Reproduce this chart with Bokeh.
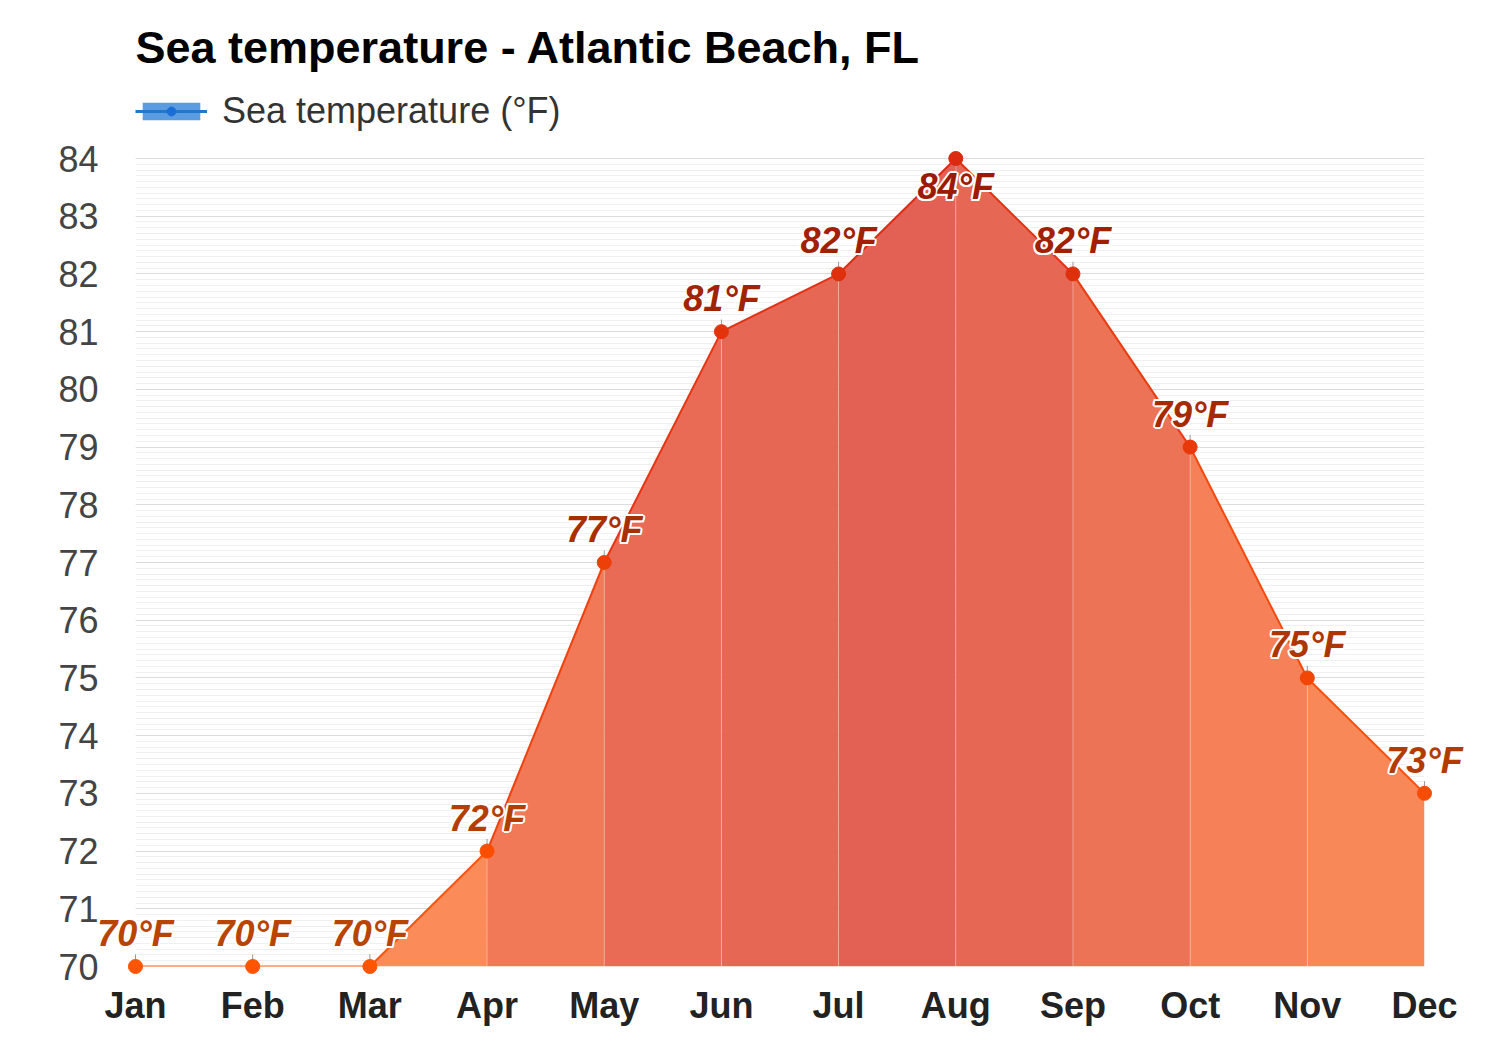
import numpy as np
from bokeh.plotting import figure
from bokeh.models import (ColumnDataSource, Legend, LegendItem, FixedTicker, Range1d, Label)
from bokeh.core.properties import value
from bokeh.embed import file_html
from bokeh.resources import INLINE

# ---------------- data ----------------
months = ["Jan", "Feb", "Mar", "Apr", "May", "Jun", "Jul", "Aug", "Sep", "Oct", "Nov", "Dec"]
sea_temp_f = [70, 70, 70, 72, 77, 81, 82, 84, 82, 79, 75, 73]
y_ticks = list(range(70, 85))
y_min, y_max = 70, 84
chart_title = "Sea temperature - Atlantic Beach, FL"
series_name = "Sea temperature (°F)"
unit = "°F"

FONT = "Liberation Sans"


def hex2rgb(h):
    h = h.lstrip("#")
    return tuple(int(h[i:i + 2], 16) for i in (0, 2, 4))


def lerp(c0, c1, t):
    a, b = hex2rgb(c0), hex2rgb(c1)
    t = max(0.0, min(1.0, t))
    return "#%02x%02x%02x" % tuple(int(round(a[i] + (b[i] - a[i]) * t)) for i in range(3))


def tnorm(v):
    return (v - y_min) / (y_max - y_min)


x = list(range(len(months)))
v = sea_temp_f
n = len(v)

# segment colours keyed on the right-hand value
seg_fill = [lerp("#ff8e52", "#e2574b", tnorm(v[i + 1])) for i in range(n - 1)]
seg_line = [lerp("#ff5a0a", "#e02a14", tnorm(v[i + 1])) for i in range(n - 1)]
pt_color = [lerp("#ff5500", "#da2a10", tnorm(t)) for t in v]
lbl_color = [lerp("#b84400", "#9c1a00", tnorm(t)) for t in v]

vmax = max(v)
lbl_off = [28 if t == vmax else -33 for t in v]
conn_end = [t - 0.21 if t == vmax else t + 0.21 for t in v]
labels = [f"{t}{unit}" for t in v]

# ---------------- layout (pixels) ----------------
W, H = 1484, 1034
FRAME_LEFT, FRAME_RIGHT = 135, 1424      # Jan .. Dec
FRAME_BOTTOM, TOP_VALUE_Y = 966, 158     # y of 70 and of 84
px_per_unit = (FRAME_BOTTOM - TOP_VALUE_Y) / (y_max - y_min)
y_top = y_min + FRAME_BOTTOM / px_per_unit   # frame reaches the canvas top

p = figure(width=W, height=H, output_backend="svg", toolbar_location=None,
           x_range=Range1d(0, n - 1), y_range=Range1d(y_min, y_top),
           min_border_left=FRAME_LEFT, min_border_right=W - FRAME_RIGHT,
           min_border_top=0, min_border_bottom=H - FRAME_BOTTOM)
p.outline_line_color = None
p.background_fill_color = "white"
p.border_fill_color = "white"

# grid
minor = [round(t, 1) for t in np.arange(y_min, y_max + 1e-9, 0.1)]
p.yaxis.ticker = FixedTicker(ticks=y_ticks, minor_ticks=minor)
p.xgrid.grid_line_color = None
p.ygrid.grid_line_color = "#dcdcdc"
p.ygrid.grid_line_width = 1
p.ygrid.minor_grid_line_color = "#f0f0f0"

# axes
p.yaxis.axis_line_color = None
p.yaxis.major_tick_line_color = None
p.yaxis.minor_tick_line_color = None
p.yaxis.major_label_text_font = FONT
p.yaxis.major_label_text_font_size = "36px"
p.yaxis.major_label_text_color = "#444444"
p.yaxis.major_label_standoff = 31

p.xaxis.ticker = FixedTicker(ticks=x)
p.xaxis.major_label_overrides = {i: m for i, m in enumerate(months)}
p.xaxis.axis_line_color = None
p.xaxis.major_tick_line_color = None
p.xaxis.minor_tick_line_color = None
p.xaxis.major_label_text_font = FONT
p.xaxis.major_label_text_font_size = "36px"
p.xaxis.major_label_text_font_style = "bold"
p.xaxis.major_label_text_color = "#222222"
p.xaxis.major_label_standoff = 12

# area segments
seg_src = ColumnDataSource(dict(
    xs=[[x[i], x[i + 1], x[i + 1], x[i]] for i in range(n - 1)],
    ys=[[v[i], v[i + 1], y_min, y_min] for i in range(n - 1)],
    fill=seg_fill,
))
p.patches("xs", "ys", source=seg_src, fill_color="fill", fill_alpha=0.95, line_color=None)

# faint seams at each month
p.segment(x0=x[1:], y0=[y_min] * (n - 1), x1=x[1:], y1=v[1:], line_color="white",
          line_alpha=0.3, line_width=1)

# top line
p.segment(x0=x[:-1], y0=v[:-1], x1=x[1:], y1=v[1:], line_color=seg_line, line_width=2)

# connectors
p.segment(x0=x, y0=v, x1=x, y1=conn_end, line_color="#999999", line_width=1, level="overlay")

# points
p.scatter(x=x, y=v, size=14, fill_color=pt_color, line_color=pt_color, level="overlay")

# labels with white halo
lsrc = ColumnDataSource(dict(x=x, y=v, text=labels, color=lbl_color, off=lbl_off))
for dx, dy in [(-2, 0), (2, 0), (0, -2), (0, 2), (-1.5, -1.5), (1.5, -1.5), (-1.5, 1.5), (1.5, 1.5)]:
    hsrc = ColumnDataSource(dict(x=x, y=v, text=labels, off=[o + dy for o in lbl_off]))
    p.text(x="x", y="y", text="text", source=hsrc, x_offset=dx, y_offset="off",
           text_align="center", text_baseline="middle", text_color="white",
           text_font=value(FONT), text_font_size="36px", text_font_style="bold italic",
           level="overlay")
p.text(x="x", y="y", text="text", source=lsrc, y_offset="off",
       text_align="center", text_baseline="middle", text_color="color",
       text_font=value(FONT), text_font_size="36px", text_font_style="bold italic",
       level="overlay")

# title (inside the tall frame, above the data area)
p.add_layout(Label(x=0, y=FRAME_BOTTOM - 47, x_units="screen", y_units="screen",
                   text=chart_title, text_font=FONT, text_font_size="45px",
                   text_font_style="bold", text_color="#000000",
                   text_align="left", text_baseline="alphabetic"))

# legend (proxy renderers placed outside the visible ranges)
lg_area = p.varea(x=[-5, -4], y1=[0, 0], y2=[1, 1], fill_color="#5b9be0", fill_alpha=1.0)
lg_line = p.line(x=[-5, -4], y=[0, 0], line_color="#1f77d0", line_width=3)
lg_pt = p.scatter(x=[-5], y=[0], size=14, fill_color="#1a6fd6", line_color="#1a6fd6")
legend = Legend(items=[LegendItem(label=series_name, renderers=[lg_area, lg_line, lg_pt])],
                location=(0, FRAME_BOTTOM - 132), orientation="horizontal",
                border_line_color=None, background_fill_alpha=0,
                padding=0, margin=0, glyph_width=72, glyph_height=22,
                label_standoff=15, label_text_font=FONT, label_text_font_size="36px",
                label_text_color="#333333")
p.add_layout(legend)

open("out.html", "w").write(file_html(p, INLINE))
